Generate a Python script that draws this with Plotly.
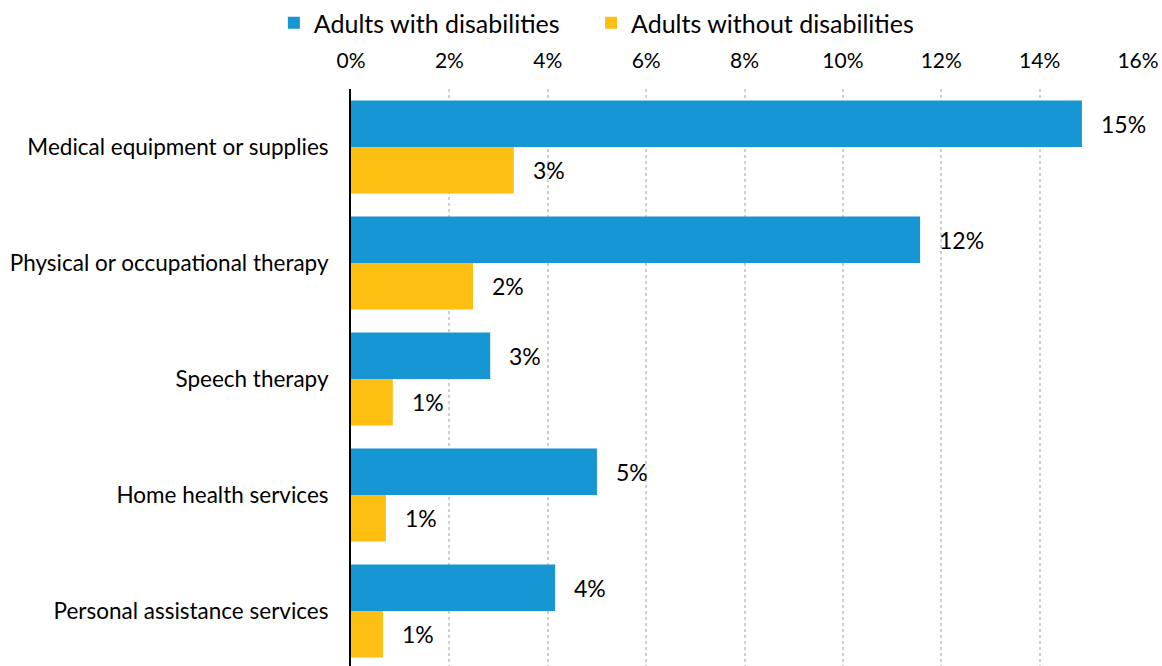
import plotly.graph_objects as go

categories = [
    "Medical equipment or supplies",
    "Physical or occupational therapy",
    "Speech therapy",
    "Home health services",
    "Personal assistance services",
]
with_dis = [14.86, 11.57, 2.83, 5.0, 4.15]
without_dis = [3.31, 2.48, 0.85, 0.71, 0.65]
series_names = ["Adults with disabilities", "Adults without disabilities"]
colors = ["#1696d2", "#fdbf11"]
tick_vals = [0, 2, 4, 6, 8, 10, 12, 14, 16]
tick_text = [f"{v}%" for v in tick_vals]

FONT = "Lato"

fig = go.Figure()
for i, (name, vals, col) in enumerate(zip(series_names, [with_dis, without_dis], colors)):
    fig.add_trace(go.Bar(
        y=categories, x=vals, name=name, orientation="h",
        marker=dict(color=col, line=dict(width=0)),
        hoverinfo="x+y",
        legend="legend" if i == 0 else "legend2",
    ))

annotations = []
for vals, shift in [(with_dis, 23), (without_dis, -23)]:
    for c, v in zip(categories, vals):
        annotations.append(dict(
            x=v, y=c, xref="x", yref="y", text=f"{v:.0f}%",
            showarrow=False, xanchor="left", yanchor="middle",
            xshift=17, yshift=shift,
            font=dict(family=FONT, size=23, color="#000000"),
        ))

legend_common = dict(
    orientation="h", xanchor="left", y=1.0, yref="container",
    yanchor="top", font=dict(family=FONT, size=25, color="#000000"),
    itemclick=False, bgcolor="rgba(0,0,0,0)",
)

fig.update_layout(
    width=1162, height=666,
    margin=dict(l=351, r=24, t=89, b=0, autoexpand=False),
    paper_bgcolor="white", plot_bgcolor="white",
    barmode="group", bargap=0.2, bargroupgap=0,
    font=dict(family=FONT, size=22, color="#000000"),
    showlegend=True,
    legend=dict(x=-0.098, **legend_common),
    legend2=dict(x=0.305, **legend_common),
    annotations=annotations,
)
fig.update_xaxes(
    side="top", range=[0, 16], tickvals=tick_vals, ticktext=tick_text,
    showgrid=True, gridcolor="#cfcfcf", gridwidth=2, griddash="dot",
    zeroline=False, showline=False, ticks="", ticklabelstandoff=16,
    tickfont=dict(family=FONT, size=21), fixedrange=True, automargin=False,
)
fig.update_yaxes(
    categoryorder="array", categoryarray=categories,
    range=[4.474, -0.5], showgrid=False, zeroline=False,
    showline=True, linecolor="#000000", linewidth=2,
    ticks="", ticklabelstandoff=16,
    tickfont=dict(family=FONT, size=22.5), fixedrange=True, automargin=False,
)

fig.write_html("out.html")
